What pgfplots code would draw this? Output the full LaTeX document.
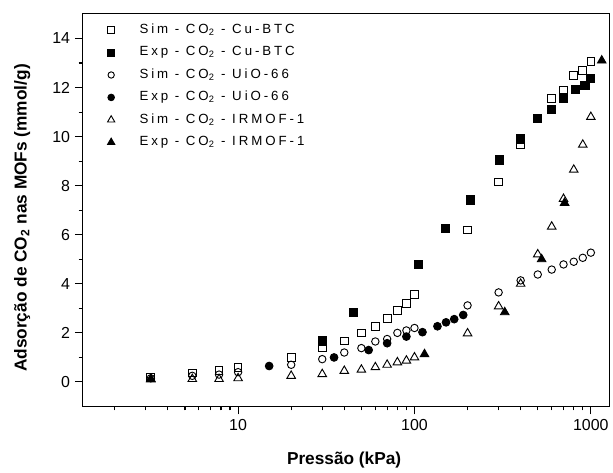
\documentclass[border=0pt]{standalone}
\usepackage{fontspec}
\setmainfont{Liberation Sans}
\usepackage{pgfplots}
\pgfplotsset{compat=1.18}
\newcommand{\sub}{\textsubscript{2}}
\newfontfamily\legfont[LetterSpace=22]{Liberation Sans}
\begin{document}
\begin{tikzpicture}
\begin{axis}[
  scale only axis, width=396.75pt, height=295.5pt,
  xmode=log, xmin=1.315, xmax=1280, ymin=-1, ymax=15,
  xtick={10,100,1000}, xticklabels={10,100,1000},
  minor xtick={2,3,4,5,6,7,8,9,20,30,40,50,60,70,80,90,200,300,400,500,600,700,800,900},
  ytick={0,2,4,6,8,10,12,14}, minor y tick num=1,
  xtick pos=bottom, ytick pos=left, tick align=outside,
  major tick length=6pt, minor tick length=3pt,
  axis line style={line width=0.8pt}, tick style={line width=0.8pt, black},
  tick label style={font=\fontsize{12}{12}\selectfont, /pgf/number format/assume math mode=true},
  xlabel={\bfseries Pressão (kPa)},
  ylabel={\bfseries Adsorção de CO\sub\ nas MOFs (mmol/g)},
  label style={font=\fontsize{13}{13}\selectfont},
  xlabel style={at={(axis description cs:0.496,-0.137)}, anchor=center},
  ylabel style={at={(axis description cs:-0.115,0.48)}, anchor=center},
  every axis plot/.append style={only marks, line width=0.7pt, black},
  legend style={draw=none, fill=none, at={(axis description cs:0.035,0.99)}, anchor=north west,
    font=\fontsize{10}{11}\selectfont\legfont, row sep=2.9pt, cells={anchor=west},
    nodes={text height=7.5pt, text depth=2.5pt, inner sep=2pt}},
  legend image code/.code={\path (-4pt,0pt) (19pt,0pt); \draw[mark repeat=1,#1,scale=0.85] plot coordinates {(0pt,0pt)};},
]
% Sim CO2 Cu-BTC
\addplot[mark=square, mark size=2.9pt, mark options={fill=white}] coordinates {
(3.2,0.2) (5.5,0.37) (7.8,0.48) (10,0.6) (20,1.0) (30,1.38) (40,1.67) (50,2.0) (60,2.27) (70,2.6) (80,2.9) (90,3.2) (100,3.57) (200,6.2) (300,8.15) (400,9.67) (600,11.56) (700,11.9) (800,12.5) (900,12.7) (1000,13.06)};
\addlegendentry{Sim - CO\sub\ - Cu-BTC}
% Exp CO2 Cu-BTC
\addplot[mark=square*, mark size=3.1pt] coordinates {
(30,1.67) (45,2.84) (105,4.8) (150,6.25) (207,7.42) (302,9.05) (400,9.9) (500,10.75) (600,11.1) (700,11.56) (820,11.93) (925,12.1) (1000,12.37)};
\addlegendentry{Exp - CO\sub\ - Cu-BTC}
% Sim CO2 UiO-66
\addplot[mark=o, mark size=2.8pt, mark options={fill=white}] coordinates {
(3.2,0.15) (5.5,0.25) (7.8,0.3) (10,0.4) (20,0.7) (30,0.93) (40,1.2) (50,1.38) (60,1.65) (70,1.75) (80,2.0) (90,2.1) (100,2.2) (200,3.12) (300,3.65) (400,4.14) (500,4.38) (600,4.58) (700,4.79) (800,4.9) (900,5.06) (1000,5.27)};
\addlegendentry{Sim - CO\sub\ - UiO-66}
% Exp CO2 UiO-66
\addplot[mark=*, mark size=2.9pt] coordinates {
(15,0.65) (35,1.0) (55,1.3) (70,1.58) (90,1.85) (111,2.03) (135,2.27) (151,2.43) (168,2.56) (189,2.73)};
\addlegendentry{Exp - CO\sub\ - UiO-66}
% Sim CO2 IRMOF-1
\addplot[mark=triangle, mark size=3.7pt, mark options={fill=white}] coordinates {
(3.2,0.1) (5.5,0.12) (7.8,0.12) (10,0.15) (20,0.25) (30,0.32) (40,0.45) (50,0.5) (60,0.6) (70,0.7) (80,0.8) (90,0.87) (100,1.0) (200,1.98) (300,3.08) (400,4.0) (500,5.2) (600,6.33) (700,7.46) (800,8.65) (900,9.67) (1000,10.8)};
\addlegendentry{Sim - CO\sub\ - IRMOF-1}
% Exp CO2 IRMOF-1
\addplot[mark=triangle*, mark size=3.7pt] coordinates {
(3.2,0.12) (114,1.13) (325,2.84) (526,5.0) (710,7.3) (1153,13.1)};
\addlegendentry{Exp - CO\sub\ - IRMOF-1}
\end{axis}
\path (-62.25pt,-48pt) rectangle (397.5pt,306pt);
\end{tikzpicture}
\end{document}
